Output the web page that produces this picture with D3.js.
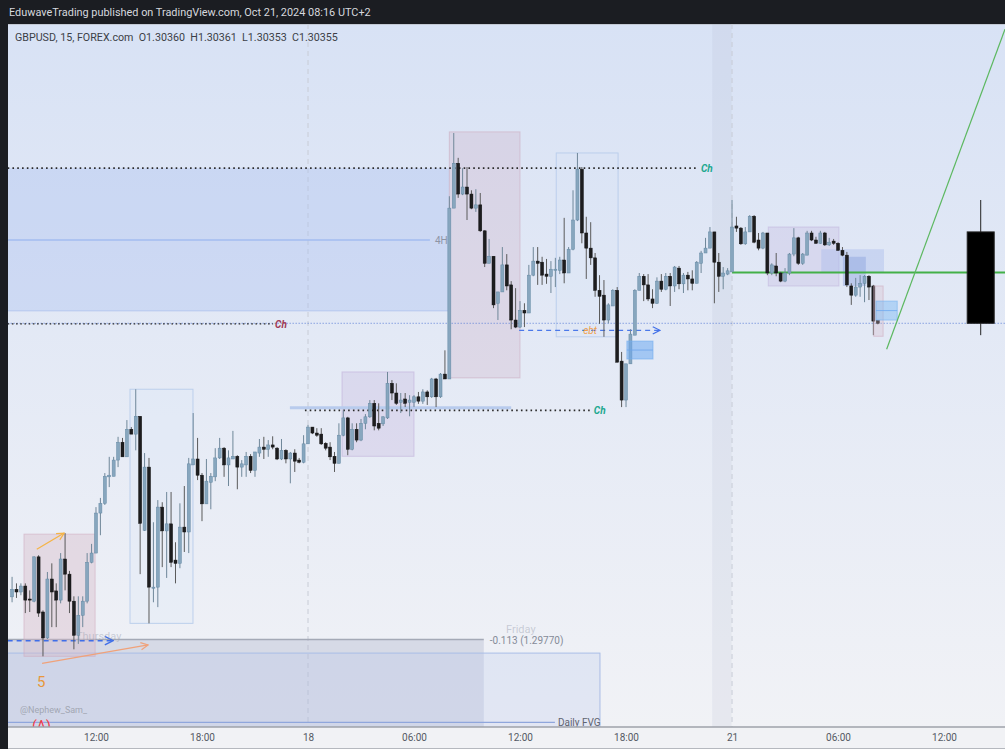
<!DOCTYPE html>
<html><head><meta charset="utf-8">
<script src="https://cdn.jsdelivr.net/npm/d3@7"></script>
<style>
html,body{margin:0;padding:0;background:#1b1d22;}
svg{display:block;}
</style></head>
<body>
<svg id="chart" width="1005" height="749"></svg>
<script>
// ---------- data (GBPUSD 15m, FOREX.com) ----------
const opens = [
1.29849,1.29863,1.29858,1.29869,1.29845,1.29841,1.29923,1.29821,1.29773,1.29882,
1.29860,1.29843,1.29919,1.29891,1.29841,1.29778,1.29815,1.29841,1.29913,1.29930,
1.30004,1.30022,1.30071,1.30072,1.30102,1.30135,1.30108,1.30159,1.30150,1.30183,
1.29972,1.30089,1.29865,1.29867,1.30015,1.29971,1.29984,1.29917,1.29911,1.29978,
1.29969,1.30093,1.30104,1.30074,1.30021,1.30061,1.30071,1.30106,1.30124,1.30093,
1.30104,1.30109,1.30089,1.30093,1.30109,1.30083,1.30115,1.30126,1.30122,1.30130,
1.30124,1.30104,1.30120,1.30104,1.30115,1.30102,1.30098,1.30132,1.30163,1.30152,
1.30150,1.30133,1.30126,1.30109,1.30096,1.30148,1.30180,1.30122,1.30159,1.30139,
1.30170,1.30182,1.30207,1.30170,1.30169,1.30180,1.30244,1.30226,1.30209,1.30215,
1.30209,1.30209,1.30219,1.30211,1.30228,1.30219,1.30252,1.30219,1.30261,1.30252,
1.30568,1.30651,1.30594,1.30607,1.30594,1.30568,1.30574,1.30526,1.30466,1.30479,
1.30392,1.30413,1.30463,1.30426,1.30361,1.30348,1.30379,1.30374,1.30444,1.30470,
1.30468,1.30446,1.30442,1.30453,1.30453,1.30472,1.30448,1.30492,1.30546,1.30640,
1.30522,1.30494,1.30476,1.30416,1.30407,1.30361,1.30387,1.30416,1.30285,1.30213,
1.30280,1.30333,1.30416,1.30442,1.30426,1.30400,1.30392,1.30433,1.30418,1.30442,
1.30424,1.30457,1.30428,1.30444,1.30437,1.30429,1.30466,1.30485,1.30494,1.30524,
1.30468,1.30442,1.30446,1.30450,1.30535,1.30531,1.30502,1.30524,1.30553,1.30509,
1.30494,1.30522,1.30448,1.30461,1.30448,1.30433,1.30448,1.30483,1.30513,1.30466,
1.30481,1.30522,1.30509,1.30503,1.30522,1.30500,1.30507,1.30503,1.30490,1.30481,
1.30424,1.30407,1.30422,1.30429,1.30442,1.30424,1.30360];
const highs = [
1.29886,1.29874,1.29874,1.29874,1.29861,1.29924,1.29926,1.29824,1.29895,1.29911,
1.29874,1.29930,1.29967,1.29897,1.29850,1.29850,1.29850,1.29930,1.29947,1.30015,
1.30032,1.30078,1.30108,1.30108,1.30145,1.30143,1.30176,1.30163,1.30233,1.30183,
1.30115,1.30106,1.29987,1.30028,1.30024,1.30043,1.30043,1.29950,1.30022,1.30054,
1.30106,1.30189,1.30143,1.30078,1.30104,1.30078,1.30124,1.30143,1.30126,1.30120,
1.30156,1.30111,1.30102,1.30117,1.30113,1.30117,1.30141,1.30145,1.30139,1.30146,
1.30126,1.30141,1.30122,1.30117,1.30122,1.30106,1.30148,1.30167,1.30163,1.30161,
1.30161,1.30135,1.30135,1.30117,1.30170,1.30194,1.30182,1.30170,1.30170,1.30178,
1.30187,1.30213,1.30213,1.30207,1.30183,1.30265,1.30250,1.30244,1.30226,1.30226,
1.30222,1.30222,1.30228,1.30233,1.30231,1.30254,1.30254,1.30263,1.30305,1.30590,
1.30707,1.30661,1.30642,1.30644,1.30601,1.30603,1.30596,1.30527,1.30511,1.30479,
1.30413,1.30496,1.30483,1.30433,1.30420,1.30396,1.30392,1.30463,1.30496,1.30496,
1.30478,1.30474,1.30470,1.30476,1.30478,1.30550,1.30496,1.30601,1.30670,1.30644,
1.30552,1.30542,1.30485,1.30444,1.30435,1.30392,1.30418,1.30422,1.30302,1.30280,
1.30344,1.30418,1.30448,1.30446,1.30446,1.30418,1.30440,1.30446,1.30448,1.30448,
1.30461,1.30461,1.30448,1.30450,1.30453,1.30470,1.30489,1.30513,1.30533,1.30524,
1.30485,1.30459,1.30457,1.30583,1.30552,1.30533,1.30533,1.30555,1.30555,1.30522,
1.30524,1.30522,1.30466,1.30485,1.30450,1.30457,1.30485,1.30531,1.30515,1.30485,
1.30526,1.30526,1.30515,1.30526,1.30524,1.30513,1.30511,1.30505,1.30496,1.30487,
1.30429,1.30439,1.30444,1.30444,1.30444,1.30426,1.30361];
const lows = [
1.29839,1.29847,1.29852,1.29819,1.29821,1.29839,1.29812,1.29739,1.29771,1.29793,
1.29793,1.29837,1.29861,1.29819,1.29752,1.29762,1.29793,1.29837,1.29911,1.29930,
1.29963,1.30019,1.30052,1.30072,1.30089,1.30108,1.30108,1.30150,1.30120,1.29891,
1.29971,1.29800,1.29839,1.29830,1.29904,1.29884,1.29904,1.29874,1.29902,1.29932,
1.29930,1.30093,1.30065,1.29989,1.30021,1.30011,1.30063,1.30104,1.30071,1.30054,
1.30104,1.30048,1.30071,1.30071,1.30078,1.30071,1.30108,1.30104,1.30108,1.30122,
1.30102,1.30102,1.30096,1.30059,1.30080,1.30096,1.30096,1.30132,1.30150,1.30145,
1.30130,1.30120,1.30102,1.30080,1.30096,1.30146,1.30111,1.30120,1.30135,1.30137,
1.30159,1.30180,1.30157,1.30157,1.30165,1.30178,1.30213,1.30204,1.30189,1.30200,
1.30183,1.30200,1.30206,1.30206,1.30204,1.30217,1.30200,1.30217,1.30252,1.30252,
1.30568,1.30587,1.30592,1.30546,1.30566,1.30561,1.30524,1.30459,1.30466,1.30383,
1.30361,1.30413,1.30416,1.30344,1.30346,1.30346,1.30348,1.30374,1.30442,1.30426,
1.30426,1.30428,1.30411,1.30422,1.30446,1.30429,1.30448,1.30490,1.30544,1.30503,
1.30437,1.30463,1.30404,1.30354,1.30330,1.30355,1.30387,1.30283,1.30200,1.30200,
1.30280,1.30333,1.30416,1.30396,1.30396,1.30383,1.30391,1.30413,1.30416,1.30387,
1.30413,1.30418,1.30411,1.30416,1.30416,1.30429,1.30448,1.30485,1.30494,1.30392,
1.30413,1.30418,1.30444,1.30450,1.30524,1.30500,1.30500,1.30524,1.30503,1.30490,
1.30492,1.30444,1.30444,1.30442,1.30431,1.30431,1.30444,1.30479,1.30463,1.30463,
1.30481,1.30507,1.30502,1.30502,1.30498,1.30498,1.30500,1.30489,1.30479,1.30422,
1.30389,1.30404,1.30404,1.30394,1.30398,1.30333,1.30353];
const closes = [
1.29863,1.29858,1.29869,1.29843,1.29843,1.29923,1.29819,1.29773,1.29882,1.29858,
1.29843,1.29919,1.29891,1.29841,1.29778,1.29815,1.29841,1.29913,1.29930,1.30004,
1.30022,1.30072,1.30074,1.30102,1.30135,1.30108,1.30159,1.30150,1.30183,1.29985,
1.30089,1.29867,1.29867,1.30015,1.29971,1.29984,1.29913,1.29911,1.29978,1.29969,
1.30095,1.30104,1.30074,1.30021,1.30063,1.30072,1.30106,1.30124,1.30093,1.30106,
1.30109,1.30089,1.30095,1.30109,1.30083,1.30117,1.30126,1.30122,1.30130,1.30126,
1.30104,1.30120,1.30104,1.30115,1.30100,1.30098,1.30132,1.30163,1.30152,1.30148,
1.30132,1.30124,1.30108,1.30096,1.30148,1.30180,1.30122,1.30159,1.30139,1.30170,
1.30182,1.30207,1.30165,1.30161,1.30182,1.30244,1.30226,1.30207,1.30213,1.30207,
1.30213,1.30219,1.30211,1.30228,1.30219,1.30252,1.30219,1.30261,1.30252,1.30568,
1.30651,1.30594,1.30607,1.30594,1.30568,1.30574,1.30526,1.30466,1.30479,1.30389,
1.30413,1.30463,1.30424,1.30361,1.30348,1.30379,1.30374,1.30444,1.30470,1.30466,
1.30444,1.30442,1.30455,1.30455,1.30472,1.30448,1.30492,1.30546,1.30640,1.30522,
1.30494,1.30476,1.30416,1.30405,1.30361,1.30389,1.30416,1.30283,1.30213,1.30280,
1.30335,1.30416,1.30442,1.30426,1.30400,1.30392,1.30433,1.30418,1.30442,1.30424,
1.30459,1.30428,1.30444,1.30437,1.30429,1.30468,1.30485,1.30494,1.30524,1.30468,
1.30442,1.30448,1.30452,1.30533,1.30531,1.30502,1.30524,1.30553,1.30505,1.30494,
1.30522,1.30448,1.30463,1.30448,1.30433,1.30448,1.30483,1.30513,1.30466,1.30483,
1.30522,1.30509,1.30503,1.30522,1.30500,1.30505,1.30503,1.30490,1.30481,1.30426,
1.30407,1.30422,1.30429,1.30442,1.30422,1.30359,1.30355];

// time axis (bar index of each tick) and its labels
const tickIndex  = [19, 43, 67, 91, 115, 139, 163, 187, 211];
const tickLabels = ["12:00","18:00","18","06:00","12:00","18:00","21","06:00","12:00"];
const dayBreaks  = [67, 163];
const sessionBand = [158.5, 162.9];

// daily (HTF) candle drawn on the right: [barIndex, open, high, low, close]
const dailyCandle = [219.3, 1.30524, 1.30583, 1.30333, 1.30355];

// annotation zones: [fromIndex, toIndex, topPrice, bottomPrice]
const zone4H      = [-1, 99, 1.30642, 1.30378];
const zone4HMid   = [-1, 94.6, 1.30509];
const zoneOB      = [99, 115, 1.30709, 1.30254];
const zoneRange1  = [123.2, 137.2, 1.30670, 1.30330];
const zoneFVG     = [139.2, 145.1, 1.30322, 1.30289];
const zonePurple  = [74.7, 91, 1.30265, 1.30109];
const zoneRange2  = [26.7, 40.96, 1.30233, 1.29800];
const zonePink    = [2.7, 18.8, 1.29965, 1.29739];
const zoneGray    = [-1, 106.8, 1.29770, 1.29580];
const zoneDaily   = [-1, 133.1, 1.29745, 1.29580];
const dailyFVGLine= [-1, 122.9, 1.29617];
const zoneR1 = [171.2, 187.2, 1.30533, 1.30424];
const zoneR2 = [183.2, 197.4, 1.30492, 1.30448];
const zoneR3 = [188.1, 193.3, 1.30478, 1.30424];
const zoneR4 = [195.1, 197.2, 1.30424, 1.30331];
const zoneR5 = [195.6, 200.4, 1.30396, 1.30361];

// horizontal levels: [fromIndex, toIndex, price]
const chHigh  = [-1, 155.3, 1.30642];
const chLeft  = [-1, 59.1, 1.30354];
const chLow   = [66.3, 130.8, 1.30194];
const blueLvl = [62.9, 113, 1.30199];
const ebtLine = [114.8, 146.7, 1.30342];
const thuLine = [-1, 22.9, 1.29768];
const fibLine = [-1, 106.8, 1.29770];
const greenLvl = [163, 226, 1.30449];
const lastPrice = 1.30355;
// trend line and arrows: [fromIndex, fromPrice, toIndex, toPrice]
const greenTrend = [198, 1.30307, 224.8, 1.30899];
const arrowA = [5.6, 1.29937, 11.8, 1.29967];
const arrowB = [6.8, 1.29726, 30.8, 1.29760];

// ---------- drawing ----------
const W = 1005, H = 749;
const L = 8, T = 24, B = 727;
const svg = d3.select("#chart");
const x = d3.scaleLinear().domain([-0.92, 224.8]).range([L, W]);
const y = d3.scaleLinear().domain([1.29612, 1.30903]).range([725, 27]);

const defs = svg.append("defs");
const grad = defs.append("linearGradient").attr("id","bg").attr("x1",0).attr("y1",0).attr("x2",0).attr("y2",1);
grad.append("stop").attr("offset","0%").attr("stop-color","#d8e2f5");
grad.append("stop").attr("offset","100%").attr("stop-color","#f1f2f6");
defs.append("clipPath").attr("id","clip").append("rect").attr("x",L).attr("y",T).attr("width",W-L).attr("height",B-T);
const mk = (id,col)=>defs.append("marker").attr("id",id).attr("viewBox","0 0 10 10").attr("refX",9).attr("refY",5)
  .attr("markerWidth",7).attr("markerHeight",7).attr("orient","auto")
  .append("path").attr("d","M1,1 L9,5 L1,9").attr("fill","none").attr("stroke",col).attr("stroke-width",1.3);
mk("arrY","#f5b447"); mk("arrO","#f0a27a"); mk("arrB","#3f6ee8");

const font = "Roboto, 'Liberation Sans', sans-serif";

// top bar
svg.append("rect").attr("x",0).attr("y",0).attr("width",W).attr("height",H).attr("fill","#1b1d22");
svg.append("text").attr("x",9).attr("y",16).attr("fill","#d6d8de").attr("font-family",font)
  .attr("font-size",10.9).text("EduwaveTrading published on TradingView.com, Oct 21, 2024 08:16 UTC+2");

// plot background
svg.append("rect").attr("x",L).attr("y",T).attr("width",W-L).attr("height",B-T).attr("fill","url(#bg)");
svg.append("line").attr("x1",L).attr("x2",W).attr("y1",T+0.5).attr("y2",T+0.5).attr("stroke","#c3c9d4").attr("stroke-width",1);
// axis strip
svg.append("rect").attr("x",L).attr("y",B).attr("width",W-L).attr("height",H-B).attr("fill","#f1f2f5");

const g = svg.append("g").attr("clip-path","url(#clip)");

const rectZone = (z, fill, stroke, sw) => g.append("rect")
  .attr("x", x(z[0])).attr("width", x(z[1]) - x(z[0]))
  .attr("y", y(z[2])).attr("height", y(z[3]) - y(z[2]))
  .attr("fill", fill).attr("stroke", stroke || "none").attr("stroke-width", sw || 1);
const hLine = (l, color, width, dash) => g.append("line")
  .attr("x1", x(l[0])).attr("x2", x(l[1])).attr("y1", y(l[2])).attr("y2", y(l[2]))
  .attr("stroke", color).attr("stroke-width", width).attr("stroke-dasharray", dash || null);

// session band and day separators
g.append("rect").attr("x", x(sessionBand[0])).attr("width", x(sessionBand[1]) - x(sessionBand[0]))
  .attr("y", T).attr("height", B - T).attr("fill", "rgba(160,170,190,0.13)");
g.selectAll(".day").data(dayBreaks).join("line")
  .attr("x1", d => x(d)).attr("x2", d => x(d)).attr("y1", T).attr("y2", B)
  .attr("stroke", "#c8ccd6").attr("stroke-width", 1).attr("stroke-dasharray", "5,4");

// bottom zones
rectZone(zoneGray, "rgba(175,182,205,0.38)");
rectZone(zoneDaily, "rgba(185,200,238,0.28)", "#a9bde6", 1);
hLine(dailyFVGLine, "#8fa6dc", 1.2);
hLine(fibLine, "#a4a9b6", 1.5);

// zones
rectZone(zone4H, "rgba(168,192,240,0.36)");
g.append("line").attr("x1",x(zone4H[0])).attr("x2",x(zone4H[1])).attr("y1",y(zone4H[3])).attr("y2",y(zone4H[3]))
  .attr("stroke","rgba(160,185,235,0.6)").attr("stroke-width",1);
hLine(zone4HMid, "#a3bdf0", 1.5);
rectZone(zoneOB, "rgba(205,180,200,0.33)", "rgba(200,160,180,0.45)", 1);
rectZone(zoneRange1, "rgba(215,228,248,0.25)", "#bccfec", 1);
rectZone(zonePurple, "rgba(195,180,220,0.32)", "rgba(190,170,215,0.5)", 1);
rectZone(zoneRange2, "rgba(215,228,248,0.2)", "#bccfec", 1);
rectZone(zonePink, "rgba(215,185,200,0.4)", "rgba(205,170,190,0.55)", 1);
rectZone(zoneR1, "rgba(195,185,225,0.32)", "rgba(190,175,220,0.5)", 1);
rectZone(zoneR2, "rgba(165,185,235,0.4)");
rectZone(zoneR3, "rgba(130,155,220,0.4)");

// levels
hLine(blueLvl, "#b8cbed", 3);
g.append("line").attr("x1",x(-1)).attr("x2",W).attr("y1",y(lastPrice)).attr("y2",y(lastPrice))
  .attr("stroke","#5a7fd6").attr("stroke-width",1).attr("stroke-dasharray","1,2");
hLine(chHigh, "#2a2a2a", 1.6, "1.6,3.2");
hLine(chLeft, "#2a2a2a", 1.3, "1.6,2.6");
hLine(chLow, "#2a2a2a", 1.6, "1.6,3.2");
hLine(greenLvl, "#43b048", 2);
hLine(ebtLine, "#4a78ea", 1.3, "5,4").attr("marker-end","url(#arrB)");
hLine(thuLine, "#3f6ee8", 1.5, "5,4").attr("marker-end","url(#arrB)");

// candles
const data = opens.map((o, i) => ({ i, o, h: highs[i], l: lows[i], c: closes[i] }));
const bw = 3;
const cg = g.append("g");
cg.selectAll(".wick").data(data).join("line")
  .attr("x1", d => x(d.i)).attr("x2", d => x(d.i))
  .attr("y1", d => y(d.h)).attr("y2", d => y(d.l))
  .attr("stroke", d => d.c >= d.o ? "#6f8799" : "#5a5a5a").attr("stroke-width", 1);
cg.selectAll(".body").data(data).join("rect")
  .attr("x", d => x(d.i) - bw / 2).attr("width", bw)
  .attr("y", d => y(Math.max(d.o, d.c)))
  .attr("height", d => Math.max(1, Math.abs(y(d.o) - y(d.c))))
  .attr("fill", d => d.c >= d.o ? "#87a6be" : "#1d1d1f")
  .attr("stroke", d => d.c >= d.o ? "#6589a4" : "#111").attr("stroke-width", 0.5);

// zones drawn above candles
rectZone(zoneFVG, "rgba(110,170,240,0.55)", "rgba(120,175,240,0.7)", 1);
g.append("line").attr("x1",x(zoneFVG[0])).attr("x2",x(zoneFVG[1])).attr("y1",y((zoneFVG[2]+zoneFVG[3])/2)).attr("y2",y((zoneFVG[2]+zoneFVG[3])/2))
  .attr("stroke","rgba(110,165,235,0.8)").attr("stroke-width",1);
rectZone(zoneR4, "rgba(215,185,200,0.3)", "rgba(205,170,190,0.55)", 1);
rectZone(zoneR5, "rgba(120,185,245,0.45)", "rgba(120,180,240,0.6)", 1);
g.append("line").attr("x1",x(zoneR5[0])).attr("x2",x(zoneR5[1])).attr("y1",y((zoneR5[2]+zoneR5[3])/2)).attr("y2",y((zoneR5[2]+zoneR5[3])/2))
  .attr("stroke","rgba(110,170,240,0.8)").attr("stroke-width",1);

// green trend line
g.append("line").attr("x1",x(greenTrend[0])).attr("y1",y(greenTrend[1])).attr("x2",x(greenTrend[2])).attr("y2",y(greenTrend[3]))
  .attr("stroke","#5cb860").attr("stroke-width",1.2);

// arrows
g.append("line").attr("x1",x(arrowA[0])).attr("y1",y(arrowA[1])).attr("x2",x(arrowA[2])).attr("y2",y(arrowA[3]))
  .attr("stroke","#f5b447").attr("stroke-width",1.3).attr("marker-end","url(#arrY)");
g.append("line").attr("x1",x(arrowB[0])).attr("y1",y(arrowB[1])).attr("x2",x(arrowB[2])).attr("y2",y(arrowB[3]))
  .attr("stroke","#f0a27a").attr("stroke-width",1.3).attr("marker-end","url(#arrO)");

// daily candle
const dc = g.append("g");
dc.append("line").attr("x1",x(dailyCandle[0])).attr("x2",x(dailyCandle[0]))
  .attr("y1",y(dailyCandle[2])).attr("y2",y(dailyCandle[3])).attr("stroke","#222").attr("stroke-width",1);
dc.append("rect").attr("x",x(dailyCandle[0])-13.5).attr("width",27)
  .attr("y",y(Math.max(dailyCandle[1],dailyCandle[4]))).attr("height",Math.abs(y(dailyCandle[1])-y(dailyCandle[4])))
  .attr("fill","#000").attr("stroke","#222").attr("stroke-width",1);

// labels
const lbl = (xx, yy, t, col, size, extra) => {
  const s = g.append("text").attr("x", xx).attr("y", yy).attr("fill", col).attr("font-size", size)
    .attr("font-family", font).attr("dominant-baseline","central").text(t);
  if (extra) extra(s); return s; };
const ital = s => s.attr("font-style","italic").attr("font-weight","bold");
lbl(x(chHigh[1]) + 3, y(chHigh[2]), "Ch", "#22a88f", 10, ital);
lbl(x(chLeft[1]) + 2, y(chLeft[2]) + 1, "Ch", "#a03a55", 10, ital);
lbl(x(chLow[1]) + 4, y(chLow[2]), "Ch", "#22a88f", 10, ital);
lbl(x(ebtLine[0]) + 64, y(ebtLine[2]), "ebt", "#f0a04b", 10, s => s.attr("font-style","italic"));
lbl(x(zone4HMid[1]) + 5, y(zone4HMid[2]), "4H", "#8d95a6", 10);
lbl(x(fibLine[1]) + 6, y(fibLine[2]) + 1, "-0.113 (1.29770)", "#858b98", 10);
lbl(x(dailyFVGLine[1]) + 3, y(dailyFVGLine[2]), "Daily FVG", "#5f6470", 10);
lbl(76, 636, "Thursday", "rgba(150,156,172,0.45)", 11);
lbl(506, 629, "Friday", "rgba(150,156,172,0.45)", 11);
lbl(x(arrowB[0]) - 5, 682, "5", "#e8983a", 15);
lbl(20, 710, "@Nephew_Sam_", "#a2a7b3", 9);
lbl(32, 725.5, "(A)", "#f23645", 14);

// legend
svg.append("text").attr("x",15).attr("y",37).attr("dominant-baseline","central").attr("fill","#3c3f47")
  .attr("font-family",font).attr("font-size",10.7)
  .attr("xml:space","preserve").text("GBPUSD, 15, FOREX.com  O1.30360  H1.30361  L1.30353  C1.30355");

// x axis
const xAxis = d3.axisBottom(x).tickValues(tickIndex).tickFormat((d, i) => tickLabels[i]).tickSize(0);
const ax = svg.append("g").attr("transform", `translate(0,${B})`).call(xAxis);
ax.select(".domain").remove();
ax.selectAll("text").attr("fill","#555a64").attr("font-size",10).attr("font-family",font).attr("dy","1.05em");
svg.append("line").attr("x1",L).attr("x2",W).attr("y1",B).attr("y2",B).attr("stroke","#9ea2aa").attr("stroke-width",1.5);
svg.append("line").attr("x1",L).attr("x2",W).attr("y1",H-0.5).attr("y2",H-0.5).attr("stroke","#b5b8be").attr("stroke-width",1);
</script>
</body></html>
